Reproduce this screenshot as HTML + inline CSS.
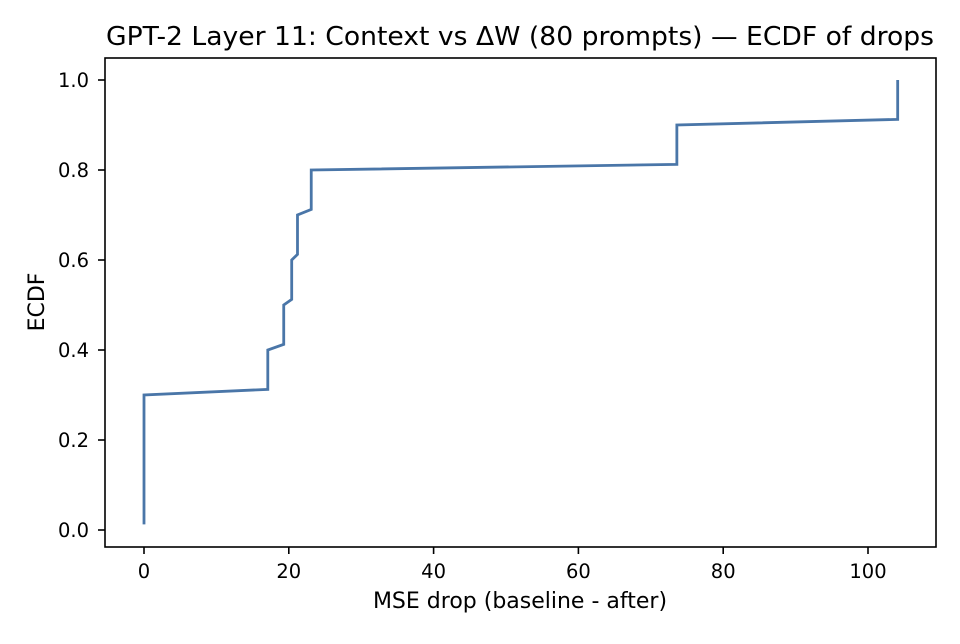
<!DOCTYPE html>
<html><head><meta charset="utf-8"><style>
body{margin:0;background:#fff;font-family:"DejaVu Sans","Liberation Sans",sans-serif;}
svg text{font-family:"DejaVu Sans","Liberation Sans",sans-serif;fill:#000;}
</style></head><body>
<svg id="chart" width="960" height="640" xmlns="http://www.w3.org/2000/svg">
<rect width="960" height="640" fill="#fff"/>
<text x="520" y="45" font-size="26" text-anchor="middle" textLength="828" lengthAdjust="spacingAndGlyphs">GPT-2 Layer 11: Context vs ΔW (80 prompts) — ECDF of drops</text>
<g id="axes"></g>
<path id="line" fill="none" stroke="#4a76a8" stroke-width="2.8"/>
<rect x="105" y="58" width="831" height="489" fill="none" stroke="#000" stroke-width="1.6"/>
<text x="520" y="608" font-size="22" text-anchor="middle">MSE drop (baseline - after)</text>
<text transform="translate(44,302) rotate(-90)" font-size="22" text-anchor="middle">ECDF</text>
</svg>
<script>
const groupValues=[0,17.1,19.3,20.4,21.2,23.1,73.6,104.1];
const groupCounts=[24,8,8,8,8,8,8,8];
const xTicks=[0,20,40,60,80,100];
const yTicks=[0.0,0.2,0.4,0.6,0.8,1.0];
const sx=v=>144+v*(868-144)/100;
const sy=v=>530-v*450;
const ns="http://www.w3.org/2000/svg";
const axes=document.getElementById('axes');
function mk(t,a){const e=document.createElementNS(ns,t);for(const k in a)e.setAttribute(k,a[k]);axes.appendChild(e);return e;}
xTicks.forEach(t=>{
 const l=mk('line',{x1:sx(t),x2:sx(t),y1:547,y2:554,stroke:'#000','stroke-width':1.6});
 
 
 const tx=mk('text',{x:sx(t),y:578,'font-size':19.5,'text-anchor':'middle'});
 tx.textContent=t;
 
 
});
yTicks.forEach(t=>{
 const l=mk('line',{x1:98,x2:105,y1:sy(t),y2:sy(t),stroke:'#000','stroke-width':1.6});
 
 
 const tx=mk('text',{x:89,y:sy(t)+7,'font-size':19.5,'text-anchor':'end'});
 tx.textContent=t.toFixed(1);
 
 
});
const vals=[];groupValues.forEach((v,i)=>{for(let k=0;k<groupCounts[i];k++)vals.push(v);});
vals.sort((a,b)=>a-b);
const n=vals.length;
let d='';vals.forEach((v,i)=>{d+=(i?'L':'M')+sx(v).toFixed(2)+','+sy((i+1)/n).toFixed(2);});
document.getElementById('line').setAttribute('d',d);
</script>
</body></html>
